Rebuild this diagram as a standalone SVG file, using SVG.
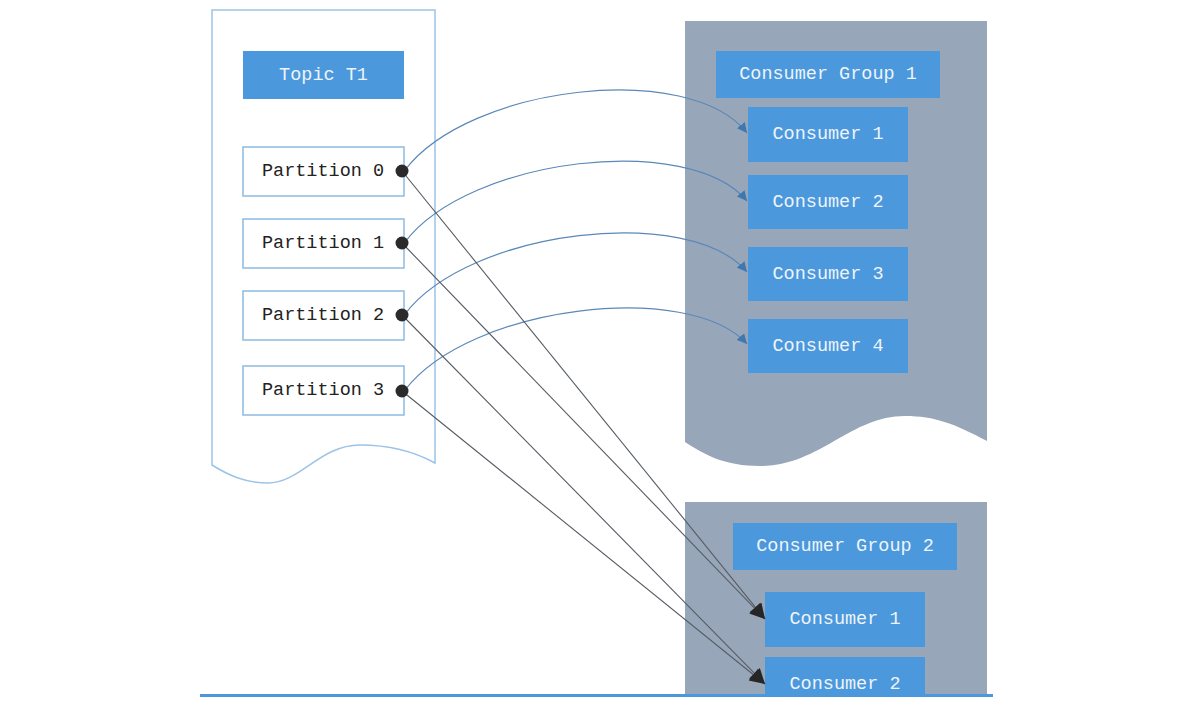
<svg xmlns="http://www.w3.org/2000/svg" width="1188" height="718" viewBox="0 0 1188 718">
<style>
.blue{fill:#4b98dc}
.part{fill:#ffffff;stroke:#8dbbe3;stroke-width:1.5}
.t{font-family:"Liberation Mono",monospace;font-size:18.5px;text-anchor:middle;dominant-baseline:central}
.w{fill:#eef4fb}
.k{fill:#222222}
.grp{fill:#98a6b9}
.curve{fill:none;stroke:#5a88b8;stroke-width:1.2}
.line{fill:none;stroke:#555b62;stroke-width:1.1}
</style>
<defs>
<marker id="ab" viewBox="0 0 10 10" refX="10" refY="5" markerWidth="10" markerHeight="10" markerUnits="userSpaceOnUse" orient="auto">
<path d="M0,0 L10,5 L0,10 Z" fill="#3f78b0"/>
</marker>
<marker id="ak" viewBox="0 0 10 10" refX="10" refY="5" markerWidth="17" markerHeight="15" markerUnits="userSpaceOnUse" orient="auto">
<path d="M0,0 L10,5 L0,10 Z" fill="#262626"/>
</marker>
</defs>
<rect width="1188" height="718" fill="#ffffff"/>

<g id="topic">
<path d="M212,10 H435 V463 C415,452 390,445 360,445 C320,445 300,483 268,483 C245,483 228,475 212,465 Z" fill="#ffffff" stroke="#9cc4e6" stroke-width="1.5"/>
<rect x="243" y="51" width="161" height="48" class="blue"/>
<text x="323.5" y="75" class="t w">Topic T1</text>
</g>
<g id="p0"><rect x="243" y="147" width="161" height="49" class="part"/><text x="323" y="171" class="t k">Partition 0</text></g>
<g id="p1"><rect x="243" y="219" width="161" height="49" class="part"/><text x="323" y="243" class="t k">Partition 1</text></g>
<g id="p2"><rect x="243" y="291" width="161" height="49" class="part"/><text x="323" y="315" class="t k">Partition 2</text></g>
<g id="p3"><rect x="243" y="366" width="161" height="49" class="part"/><text x="323" y="390" class="t k">Partition 3</text></g>

<g id="group1">
<path d="M685,21 H987 V441 C955,424 935,416 905,416 C850,416 820,466 760,466 C725,466 705,455 685,442 Z" class="grp"/>
<rect x="716" y="51" width="224" height="47" class="blue"/>
<text x="828" y="74" class="t w">Consumer Group 1</text>
</g>
<g id="g1c1"><rect x="748" y="107" width="160" height="55" class="blue"/><text x="828" y="134" class="t w">Consumer 1</text></g>
<g id="g1c2"><rect x="748" y="175" width="160" height="54" class="blue"/><text x="828" y="202" class="t w">Consumer 2</text></g>
<g id="g1c3"><rect x="748" y="247" width="160" height="54" class="blue"/><text x="828" y="274" class="t w">Consumer 3</text></g>
<g id="g1c4"><rect x="748" y="319" width="160" height="54" class="blue"/><text x="828" y="346" class="t w">Consumer 4</text></g>

<g id="group2">
<rect x="685" y="502" width="302" height="194" class="grp"/>
<rect x="733" y="523" width="224" height="47" class="blue"/>
<text x="845" y="546" class="t w">Consumer Group 2</text>
</g>
<g id="g2c1"><rect x="765" y="592" width="160" height="55" class="blue"/><text x="845" y="619" class="t w">Consumer 1</text></g>
<g id="g2c2"><rect x="765" y="657" width="160" height="39" class="blue"/><text x="845" y="684" class="t w">Consumer 2</text></g>

<g id="connectors">
<path d="M405,170 C470,85 690,60 747,133" class="curve" marker-end="url(#ab)"/>
<path d="M405,242 C470,157 690,132 747,201" class="curve" marker-end="url(#ab)"/>
<path d="M405,314 C470,229 690,204 747,272" class="curve" marker-end="url(#ab)"/>
<path d="M405,390 C470,305 690,280 747,344" class="curve" marker-end="url(#ab)"/>
<line x1="402" y1="171" x2="765" y2="619" class="line" marker-end="url(#ak)"/>
<line x1="402" y1="243" x2="765" y2="619" class="line" marker-end="url(#ak)"/>
<line x1="402" y1="315" x2="765" y2="684" class="line" marker-end="url(#ak)"/>
<line x1="402" y1="391" x2="765" y2="684" class="line" marker-end="url(#ak)"/>
<circle cx="402" cy="171" r="6.5" fill="#2a2a2a"/>
<circle cx="402" cy="243" r="6.5" fill="#2a2a2a"/>
<circle cx="402" cy="315" r="6.5" fill="#2a2a2a"/>
<circle cx="402" cy="391" r="6.5" fill="#2a2a2a"/>
</g>
<rect x="200" y="694" width="793" height="3" fill="#4b98dc"/>
</svg>
